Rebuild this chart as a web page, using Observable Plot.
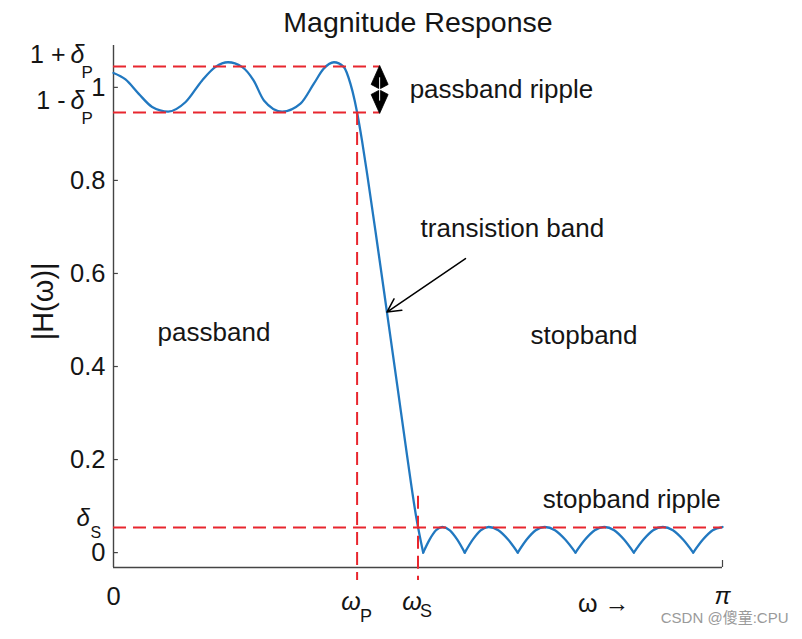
<!DOCTYPE html>
<html><head><meta charset="utf-8">
<script src="https://cdn.jsdelivr.net/npm/d3@7"></script>
<script src="https://cdn.jsdelivr.net/npm/@observablehq/plot@0.6"></script>
<style>
html,body{margin:0;padding:0;background:#fff;}
#chart{width:802px;height:639px;}
</style></head><body><div id="chart"></div>
<script>
// ---- values (omega in units of pi) ----
const xDomain = [0, 1];
const yDomain = [-0.032, 1.09];
const yTickValues = [0, 0.2, 0.4, 0.6, 0.8, 1];
const yTickLabels = ["0", "0.2", "0.4", "0.6", "0.8", "1"];
const passUpper = 1.045;   // 1 + deltaP
const passLower = 0.946;   // 1 - deltaP
const stopRipple = 0.054;  // deltaS
const omegaP = 0.4;
const omegaS = 0.5;
const rippleMarkerX = 0.437;

// magnitude curve: passband + transition
const passOmega = [0, 0.0197, 0.0415, 0.0635, 0.0898, 0.118, 0.1456, 0.1675, 0.188, 0.211, 0.230, 0.247, 0.277, 0.307, 0.329, 0.345, 0.362, 0.378, 0.389, 0.396, 0.400, 0.408, 0.4166, 0.433, 0.449, 0.466, 0.482, 0.4975, 0.5085];
const passMag   = [1.031, 1.017, 0.986, 0.958, 0.948, 0.968, 1.015, 1.044, 1.054, 1.044, 1.015, 0.972, 0.948, 0.965, 1.008, 1.040, 1.054, 1.044, 1.008, 0.972, 0.946, 0.886, 0.813, 0.665, 0.517, 0.359, 0.209, 0.073, 0.0];
// stopband arches (|H| with zeros)
const stopOmega = [
  [0.5085, 0.519, 0.5295, 0.540, 0.5523, 0.5645, 0.5768],
  [0.5768, 0.5899, 0.6029, 0.616, 0.6319, 0.6479, 0.6638],
  [0.6638, 0.6785, 0.6933, 0.708, 0.7249, 0.7417, 0.7586],
  [0.7586, 0.7744, 0.7902, 0.806, 0.8221, 0.8383, 0.8544],
  [0.8544, 0.8703, 0.8861, 0.902, 0.9186, 0.9352, 0.9519],
  [0.9519, 0.9679, 0.9839, 1.0]
];
const stopMag = [
  [0, 0.028, 0.048, 0.055, 0.048, 0.028, 0],
  [0, 0.028, 0.048, 0.055, 0.048, 0.028, 0],
  [0, 0.028, 0.048, 0.055, 0.048, 0.028, 0],
  [0, 0.028, 0.048, 0.055, 0.048, 0.028, 0],
  [0, 0.028, 0.048, 0.055, 0.048, 0.028, 0],
  [0, 0.028, 0.048, 0.055]
];

// annotations (text, omega, magnitude)
const annText = ["passband ripple", "transistion band", "passband", "stopband", "stopband ripple"];
const annOmega = [0.637, 0.655, 0.165, 0.7726, 0.851];
const annMag = [0.996, 0.697, 0.473, 0.467, 0.114];
const arrowFrom = {x: 0.578, y: 0.632};
const arrowTo = {x: 0.449, y: 0.517};

// ---- build tables ----
const curve = [];
passOmega.forEach((w, i) => curve.push({w, m: passMag[i], seg: 0}));
stopOmega.forEach((arr, k) => arr.forEach((w, i) => curve.push({w, m: stopMag[k][i], seg: k + 1})));

const RED = "#e8262e";
const BLUE = "#2178c0";
const AX = "#444";
const TXT = "#151515";
const FONT = "Liberation Sans, Arial, Helvetica, sans-serif";

const doubleArrow = {
  draw(ctx) {
    ctx.moveTo(0, -24); ctx.lineTo(8.5, -5); ctx.lineTo(1, -1); ctx.lineTo(-1, -1); ctx.lineTo(-8.5, -5); ctx.closePath();
    ctx.moveTo(0, 24); ctx.lineTo(8.5, 5); ctx.lineTo(1, 1); ctx.lineTo(-1, 1); ctx.lineTo(-8.5, 5); ctx.closePath();
  }
};
const midRipple = (passUpper + passLower) / 2;

const plot = Plot.plot({
  width: 802,
  height: 639,
  marginLeft: 113,
  marginRight: 80,
  marginTop: 45,
  marginBottom: 72,
  x: {domain: xDomain, axis: null},
  y: {domain: yDomain, axis: null},
  style: {fontFamily: FONT, background: "#fff", overflow: "visible"},
  marks: [
    // spines
    Plot.ruleX([xDomain[0]], {y1: yDomain[0], y2: yDomain[1], stroke: AX, strokeWidth: 1.4}),
    Plot.ruleY([yDomain[0]], {x1: xDomain[0], x2: xDomain[1], stroke: AX, strokeWidth: 1.4}),
    Plot.ruleY(yTickValues, {x1: xDomain[0], x2: 0.008, stroke: AX, strokeWidth: 1.2}),
    Plot.ruleX([xDomain[1]], {y1: yDomain[0], y2: yDomain[0] + 0.015, stroke: AX, strokeWidth: 1.2}),
    // magnitude curve
    Plot.line(curve, {x: "w", y: "m", z: "seg", curve: "monotone-x", stroke: BLUE, strokeWidth: 2.3}),
    // red dashed guides
    Plot.ruleY([passUpper, passLower], {x1: 0, x2: rippleMarkerX, stroke: RED, strokeWidth: 2, strokeDasharray: "13,7"}),
    Plot.ruleY([stopRipple], {x1: 0, x2: 1, stroke: RED, strokeWidth: 2, strokeDasharray: "13,7"}),
    Plot.ruleX([omegaP], {y1: passLower, y2: -0.06, stroke: RED, strokeWidth: 2, strokeDasharray: "13,7"}),
    Plot.ruleX([omegaS], {y1: 0.121, y2: -0.06, stroke: RED, strokeWidth: 2, strokeDasharray: "13,7"}),
    // passband ripple double arrow
    Plot.dot([{x: rippleMarkerX, y: midRipple}], {x: "x", y: "y", symbol: doubleArrow, fill: "#000", stroke: "#000", strokeWidth: 0.8}),
    Plot.ruleX([rippleMarkerX], {y1: midRipple - 0.025, y2: midRipple + 0.025, stroke: "#fff", strokeWidth: 1}),
    // transition arrow
    Plot.arrow([{x1: arrowFrom.x, y1: arrowFrom.y, x2: arrowTo.x, y2: arrowTo.y}], {x1: "x1", y1: "y1", x2: "x2", y2: "y2", stroke: "#000", strokeWidth: 1.5, headLength: 15, headAngle: 55}),
    // title
    Plot.text(["Magnitude Response"], {frameAnchor: "top", lineAnchor: "middle", dy: -23, fontSize: 28.5, fill: TXT}),
    // y label
    Plot.text(["|H(ω)|"], {x: 0, y: 0.54, dx: -70, rotate: -90, fontSize: 29, fill: TXT}),
    // y tick labels
    Plot.text(yTickValues, {x: 0, y: d => d, text: (d, i) => yTickLabels[i], textAnchor: "end", dx: -8, fontSize: 25.5, fill: TXT}),
    // special y labels
    Plot.text([passUpper], {x: 0, y: d => d, text: () => "1 +", textAnchor: "end", dx: -48, dy: -11, fontSize: 25, fill: TXT}),
    Plot.text([passLower], {x: 0, y: d => d, text: () => "1 -", textAnchor: "end", dx: -48, dy: -11, fontSize: 25, fill: TXT}),
    Plot.text([passUpper, passLower], {x: 0, y: d => d, text: () => "δ", textAnchor: "start", dx: -43, dy: -11, fontSize: 25, fontStyle: "italic", fill: TXT}),
    Plot.text([passUpper, passLower], {x: 0, y: d => d, text: () => "P", textAnchor: "start", dx: -32, dy: 6, fontSize: 17, fill: TXT}),
    Plot.text([stopRipple], {x: 0, y: d => d, text: () => "δ", textAnchor: "start", dx: -37, dy: -9, fontSize: 24, fontStyle: "italic", fill: TXT}),
    Plot.text([stopRipple], {x: 0, y: d => d, text: () => "S", textAnchor: "start", dx: -23, dy: 5, fontSize: 16, fill: TXT}),
    // x labels
    Plot.text([0], {x: d => d, y: yDomain[0], text: () => "0", dy: 29, fontSize: 25.5, fill: TXT}),
    Plot.text([1], {x: d => d, y: yDomain[0], text: () => "π", dy: 29, fontSize: 24, fontStyle: "italic", fill: TXT}),
    Plot.text([omegaP, omegaS], {x: d => d, y: yDomain[0], text: () => "ω", dx: -6, dy: 34, fontSize: 25, fontStyle: "italic", fill: TXT}),
    Plot.text([omegaP], {x: d => d, y: yDomain[0], text: () => "P", dx: 9, dy: 49, fontSize: 18, fill: TXT}),
    Plot.text([omegaS], {x: d => d, y: yDomain[0], text: () => "S", dx: 8, dy: 44, fontSize: 18, fill: TXT}),
    Plot.text(["ω →"], {x: 0.805, y: yDomain[0], dy: 36, fontSize: 25, fill: TXT}),
    // annotations
    Plot.text(annText, {x: (d, i) => annOmega[i], y: (d, i) => annMag[i], text: d => d, fontSize: 26, fill: TXT}),
    // watermark
    Plot.text(["CSDN @傻童:CPU"], {frameAnchor: "bottom-right", textAnchor: "end", dx: 66, dy: 55, fontSize: 15, fill: "#9a9a9a", fontFamily: "Liberation Sans, Noto Sans CJK SC, sans-serif"})
  ]
});
document.getElementById("chart").append(plot);
</script>
</body></html>
